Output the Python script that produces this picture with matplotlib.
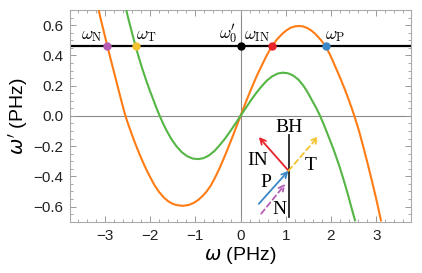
import matplotlib
matplotlib.use("Agg")
import matplotlib.pyplot as plt
from matplotlib.ticker import MultipleLocator, FuncFormatter

plt.rcParams['font.family'] = ['Liberation Sans', 'DejaVu Sans']
plt.rcParams['mathtext.fontset'] = 'cm'

# orange branch (omega, omega')
orange_w = [-3.135, -3.085, -3.03, -2.943, -2.84, -2.74, -2.64, -2.546, -2.47, -2.40, -2.32,
            -2.24, -2.16, -2.08, -1.99, -1.90, -1.80, -1.70, -1.60, -1.50, -1.40, -1.273,
            -1.15, -1.03, -0.93, -0.84, -0.757, -0.66, -0.574, -0.47, -0.368, -0.27, -0.18,
            -0.09, 0.0, 0.09, 0.18, 0.272, 0.37, 0.48, 0.585, 0.692, 0.80, 0.927, 1.01,
            1.104, 1.20, 1.288, 1.38, 1.472, 1.56, 1.648, 1.73, 1.788, 1.884, 1.97, 2.06,
            2.14, 2.222, 2.30, 2.37, 2.445, 2.517, 2.62, 2.715, 2.81, 2.907, 3.0, 3.105]
orange_wp = [0.697, 0.632, 0.566, 0.459, 0.338, 0.222, 0.105, 0.0, -0.067, -0.126, -0.189,
             -0.249, -0.305, -0.357, -0.41, -0.46, -0.504, -0.539, -0.565, -0.582, -0.591, -0.595,
             -0.590, -0.575, -0.555, -0.530, -0.503, -0.462, -0.415, -0.350, -0.280, -0.208, -0.14,
             -0.07, 0.0, 0.07, 0.138, 0.204, 0.272, 0.340, 0.404, 0.459, 0.504, 0.544, 0.565,
             0.583, 0.592, 0.595, 0.592, 0.582, 0.566, 0.544, 0.518, 0.498, 0.459, 0.41, 0.35,
             0.295, 0.238, 0.18, 0.125, 0.063, 0.0, -0.100, -0.205, -0.315, -0.432, -0.549, -0.691]

# green branch
green_w = [-2.524, -2.47, -2.42, -2.37, -2.318, -2.26, -2.2, -2.135, -2.07, -2.0, -1.93, -1.86,
           -1.788, -1.71, -1.63, -1.53, -1.42, -1.30, -1.18, -1.06, -0.942, -0.82, -0.70,
           -0.58, -0.47, -0.35, -0.23, -0.115, 0.0, 0.115, 0.23, 0.35, 0.47, 0.58, 0.70,
           0.82, 0.935, 1.05, 1.165, 1.28, 1.39, 1.49, 1.585, 1.675, 1.759, 1.835, 1.908,
           1.981, 2.055, 2.123, 2.191, 2.254, 2.315, 2.37, 2.422, 2.474, 2.531]
green_wp = [0.697, 0.63, 0.573, 0.515, 0.459, 0.398, 0.338, 0.278, 0.221, 0.163, 0.108, 0.053,
            0.0, -0.052, -0.10, -0.153, -0.200, -0.240, -0.267, -0.282, -0.286, -0.280, -0.262,
            -0.233, -0.197, -0.153, -0.103, -0.052, 0.0, 0.052, 0.103, 0.153, 0.197, 0.233, 0.262,
            0.280, 0.286, 0.282, 0.267, 0.240, 0.200, 0.153, 0.100, 0.052, 0.0, -0.053, -0.108,
            -0.163, -0.221, -0.278, -0.338, -0.398, -0.459, -0.515, -0.573, -0.63, -0.691]

w0p = 0.46
pt_names = ['N', 'T', '0', 'IN', 'P']
pt_w = [-2.943, -2.318, 0.0, 0.692, 1.884]
pt_colors = ['#b55db5', '#f2c230', 'black', '#e8222b', '#3b87c6']

c_orange = '#ff7c14'
c_green = '#55b545'

fig = plt.figure(figsize=(4.22, 2.73), dpi=100)
ax = fig.add_axes([0.166, 0.188, 0.808, 0.775])

ax.axhline(0, color='#8a8a8a', lw=0.8, zorder=1)
ax.axvline(0, color='#8a8a8a', lw=0.8, zorder=1)
ax.axhline(w0p, color='black', lw=1.6, zorder=2)

ax.plot(orange_w, orange_wp, color=c_orange, lw=1.5, zorder=3)
ax.plot(green_w, green_wp, color=c_green, lw=1.5, zorder=3)

for w, c in zip(pt_w, pt_colors):
    ax.plot(w, w0p, 'o', color=c, ms=5, zorder=5)

lab = dict(fontsize=12.5, va='baseline')
ax.text(-3.06, 0.51, r'$\omega_{\mathrm{N}}$', ha='right', **lab)
ax.text(-2.32, 0.51, r'$\omega_{\mathrm{T}}$', ha='left', **lab)
ax.text(-0.06, 0.51, r"$\omega_0'$", ha='right', **lab)
ax.text(0.07, 0.51, r'$\omega_{\mathrm{IN}}$', ha='left', **lab)
ax.text(1.87, 0.51, r'$\omega_{\mathrm{P}}$', ha='left', **lab)

# little sketch of the horizon
ax.plot([1.075, 1.075], [-0.127, -0.669], color='#222222', lw=1.3, zorder=4)
meet = (1.06, -0.363)
arr = dict(arrowstyle='->', lw=1.3, mutation_scale=10, shrinkA=0, shrinkB=0)
ax.annotate('', xy=(0.404, -0.14), xytext=meet,
            arrowprops=dict(color=pt_colors[3], **arr), zorder=6)
ax.annotate('', xy=(1.722, -0.135), xytext=meet,
            arrowprops=dict(color=pt_colors[1], ls=(0, (3, 2)), **arr), zorder=6)
ax.annotate('', xy=meet, xytext=(0.404, -0.582),
            arrowprops=dict(color=pt_colors[4], **arr), zorder=6)
ax.annotate('', xy=(0.993, -0.45), xytext=(0.457, -0.647),
            arrowprops=dict(color=pt_colors[0], ls=(0, (3, 2)), **arr), zorder=6)
ins = dict(fontsize=14, ha='center', va='center', family='Liberation Serif')
ax.text(1.075, -0.075, 'BH', **ins)
ax.text(0.37, -0.298, 'IN', **ins)
ax.text(1.56, -0.33, 'T', **ins)
ax.text(0.567, -0.44, 'P', **ins)
ax.text(0.86, -0.62, 'N', **ins)

ax.set_xlim(-3.77, 3.77)
ax.set_ylim(-0.7, 0.7)
ax.xaxis.set_major_locator(MultipleLocator(1))
ax.xaxis.set_minor_locator(MultipleLocator(0.2))
ax.yaxis.set_major_locator(MultipleLocator(0.2))
ax.yaxis.set_minor_locator(MultipleLocator(0.05))
ax.xaxis.set_major_formatter(FuncFormatter(lambda v, p: f'{v:.0f}'.replace('-', '\u2212')))
ax.yaxis.set_major_formatter(FuncFormatter(lambda v, p: f'{v:.1f}'.replace('-', '\u2212')))
ax.tick_params(which='both', direction='in', top=True, right=True, color='#999999',
               labelsize=11, labelcolor='#222222', pad=5)
ax.tick_params(which='major', length=4, width=0.7)
ax.tick_params(which='minor', length=2, width=0.6)
for s in ax.spines.values():
    s.set_color('#aaaaaa')
    s.set_linewidth(0.8)

ax.set_xlabel(r'$\omega$ (PHz)', fontsize=14, math_fontfamily='dejavusans', labelpad=2)
ax.set_ylabel(r"$\omega'$ (PHz)", fontsize=14, math_fontfamily='dejavusans')
ax.yaxis.set_label_coords(-0.118, 0.5)

fig.savefig('out.png', dpi=100)
